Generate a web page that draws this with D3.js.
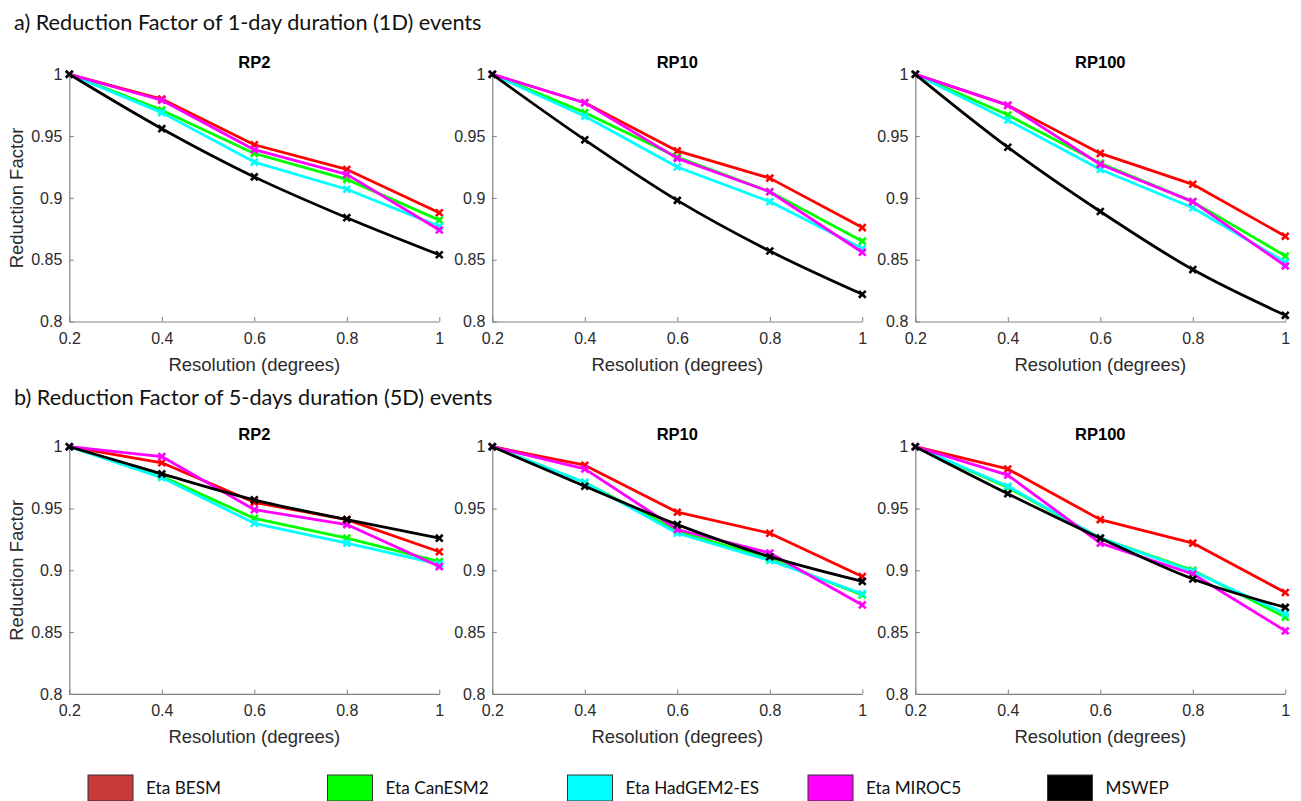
<!DOCTYPE html>
<html>
<head>
<meta charset="utf-8">
<script src="https://cdn.jsdelivr.net/npm/d3@7"></script>
<style>
  html, body { margin: 0; padding: 0; background: #ffffff; }
  svg { display: block; }
</style>
</head>
<body>
<svg id="chart" width="1301" height="801"></svg>
<script>
// Grid resolutions (degrees) shared by every panel
const resolution = [0.2, 0.4, 0.6, 0.8, 1.0];

const returnPeriods = ["RP2", "RP10", "RP100"];
const sectionTitles = [
  "a) Reduction Factor of 1-day duration (1D) events",
  "b) Reduction Factor of 5-days duration (5D) events"
];
const seriesNames = ["Eta BESM", "Eta CanESM2", "Eta HadGEM2-ES", "Eta MIROC5", "MSWEP"];
const lineColors = ["#ff0000", "#00ff00", "#00ffff", "#ff00ff", "#000000"];
const legendColors = ["#c83a3a", "#00ff00", "#00ffff", "#ff00ff", "#000000"];

const xTicks = [0.2, 0.4, 0.6, 0.8, 1];
const yTicks = [0.8, 0.85, 0.9, 0.95, 1];

// Reduction factor, one row per return period (RP2, RP10, RP100)
const etaBESM_1D     = [[1, 0.980, 0.943, 0.923, 0.888], [1, 0.977, 0.938, 0.916, 0.876], [1, 0.975, 0.936, 0.911, 0.869]];
const etaCanESM2_1D  = [[1, 0.971, 0.936, 0.915, 0.882], [1, 0.969, 0.933, 0.905, 0.865], [1, 0.967, 0.928, 0.897, 0.853]];
const etaHadGEM2_1D  = [[1, 0.969, 0.929, 0.907, 0.877], [1, 0.966, 0.925, 0.897, 0.859], [1, 0.963, 0.923, 0.892, 0.848]];
const etaMIROC5_1D   = [[1, 0.979, 0.939, 0.919, 0.874], [1, 0.977, 0.932, 0.905, 0.856], [1, 0.975, 0.927, 0.897, 0.845]];
const mswep_1D       = [[1, 0.956, 0.917, 0.884, 0.854], [1, 0.947, 0.898, 0.857, 0.822], [1, 0.941, 0.889, 0.842, 0.805]];

const etaBESM_5D     = [[1, 0.987, 0.955, 0.941, 0.915], [1, 0.985, 0.947, 0.930, 0.895], [1, 0.982, 0.941, 0.922, 0.882]];
const etaCanESM2_5D  = [[1, 0.976, 0.942, 0.926, 0.907], [1, 0.971, 0.932, 0.909, 0.880], [1, 0.967, 0.926, 0.900, 0.862]];
const etaHadGEM2_5D  = [[1, 0.975, 0.938, 0.922, 0.905], [1, 0.971, 0.930, 0.908, 0.881], [1, 0.968, 0.926, 0.899, 0.865]];
const etaMIROC5_5D   = [[1, 0.992, 0.949, 0.937, 0.903], [1, 0.982, 0.933, 0.914, 0.872], [1, 0.977, 0.922, 0.897, 0.851]];
const mswep_5D       = [[1, 0.978, 0.957, 0.941, 0.926], [1, 0.968, 0.937, 0.911, 0.891], [1, 0.962, 0.926, 0.893, 0.870]];

const durationSeries = [
  [etaBESM_1D, etaCanESM2_1D, etaHadGEM2_1D, etaMIROC5_1D, mswep_1D],
  [etaBESM_5D, etaCanESM2_5D, etaHadGEM2_5D, etaMIROC5_5D, mswep_5D]
];

// ---- layout ----
const svg = d3.select("#chart");
const colLeft = [69.3, 492.3, 915.3];
const rowTop = [74.3, 446.7];
const plotW = 370, plotH = 247.2;
const sectionBaseline = [30, 405];

const axisColor = "#808080";
const textColor = "#2b2b2b";
const tickFont = "Liberation Sans, Arial, sans-serif";
const headFont = "Lato, 'Open Sans', sans-serif";

const fmt = v => (Math.round(v * 100) / 100).toString();

sectionTitles.forEach((t, r) => {
  svg.append("text")
    .attr("x", 14).attr("y", sectionBaseline[r])
    .attr("font-family", headFont).attr("font-size", 21.7)
    .attr("fill", "#111").text(t);
});

durationSeries.forEach((seriesSet, r) => {
  returnPeriods.forEach((rp, c) => {
    const x = d3.scaleLinear().domain([0.2, 1]).range([0, plotW]);
    const y = d3.scaleLinear().domain([0.8, 1]).range([plotH, 0]);
    const g = svg.append("g").attr("transform", `translate(${colLeft[c]},${rowTop[r]})`);

    // axes with inward ticks
    const xAxis = g.append("g").attr("transform", `translate(0,${plotH})`)
      .call(d3.axisBottom(x).tickValues(xTicks).tickFormat(fmt).tickSizeInner(-4.5).tickSizeOuter(0).tickPadding(11));
    const yAxis = g.append("g")
      .call(d3.axisLeft(y).tickValues(yTicks).tickFormat(fmt).tickSizeInner(-4.5).tickSizeOuter(0).tickPadding(7));
    [xAxis, yAxis].forEach(a => {
      a.select(".domain").attr("stroke", axisColor).attr("stroke-width", 1.2);
      a.selectAll(".tick line").attr("stroke", axisColor);
      a.selectAll(".tick text").attr("fill", textColor)
        .attr("font-family", tickFont).attr("font-size", 16);
    });

    // panel title
    g.append("text")
      .attr("x", plotW / 2).attr("y", -6.5)
      .attr("text-anchor", "middle")
      .attr("font-family", tickFont).attr("font-weight", "bold").attr("font-size", 16.5)
      .attr("fill", "#000").text(rp);

    // axis labels
    g.append("text")
      .attr("x", plotW / 2).attr("y", plotH + 49.5)
      .attr("text-anchor", "middle")
      .attr("font-family", tickFont).attr("font-size", 18.5)
      .attr("fill", textColor).text("Resolution (degrees)");
    if (c === 0) {
      g.append("text")
        .attr("transform", `translate(${-46},${plotH / 2}) rotate(-90)`)
        .attr("text-anchor", "middle")
        .attr("font-family", tickFont).attr("font-size", 18.5)
        .attr("fill", textColor).text("Reduction Factor");
    }

    // series lines + x markers
    seriesSet.forEach((series, s) => {
      const vals = series[c];
      const pts = resolution.map((res, i) => [res, vals[i]]);
      const line = d3.line()
        .x(d => x(d[0])).y(d => y(d[1]))
        .curve(s === 4 ? d3.curveMonotoneX : d3.curveLinear);
      g.append("path").datum(pts)
        .attr("d", line)
        .attr("fill", "none")
        .attr("stroke", lineColors[s])
        .attr("stroke-width", 2.8)
        .attr("stroke-linejoin", "round");
      const m = 3.4;
      g.append("g").selectAll("path").data(pts).join("path")
        .attr("d", d => {
          const cx = x(d[0]), cy = y(d[1]);
          return `M${cx - m},${cy - m}L${cx + m},${cy + m}M${cx - m},${cy + m}L${cx + m},${cy - m}`;
        })
        .attr("stroke", lineColors[s])
        .attr("stroke-width", 2.6)
        .attr("fill", "none");
    });
  });
});

// ---- legend ----
const legendX = [88, 327.5, 567.5, 808, 1047.5];
const legend = svg.append("g");
seriesNames.forEach((name, i) => {
  legend.append("rect")
    .attr("x", legendX[i]).attr("y", 775)
    .attr("width", 45).attr("height", 26)
    .attr("fill", legendColors[i])
    .attr("stroke", "#333").attr("stroke-width", 1);
  legend.append("text")
    .attr("x", legendX[i] + 58).attr("y", 793.5)
    .attr("font-family", headFont).attr("font-size", 17.2)
    .attr("fill", "#111").text(name);
});
</script>
</body>
</html>
